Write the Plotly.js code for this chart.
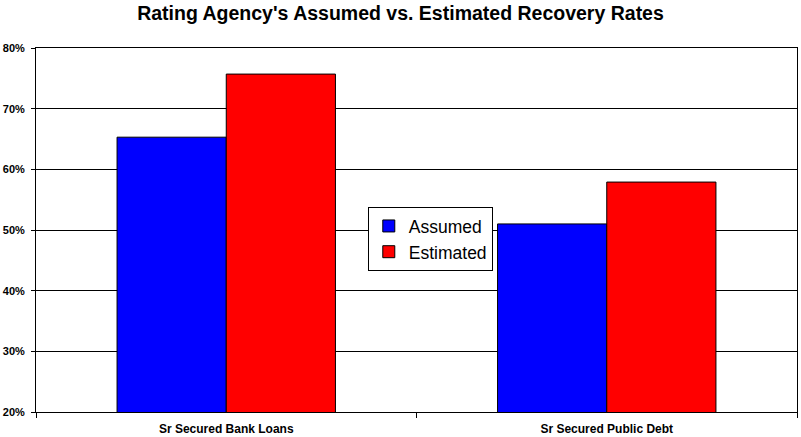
<!DOCTYPE html>
<html><head><meta charset="utf-8">
<script src="https://cdn.plot.ly/plotly-3.0.1.min.js"></script>
<style>body{margin:0;background:#fff}#c{width:801px;height:437px}</style>
</head><body><div id="c"></div>
<script>
const categories = ["Sr Secured Bank Loans", "Sr Secured Public Debt"];
const assumed = [0.653, 0.510];
const estimated = [0.757, 0.579];
const seriesNames = ["Assumed", "Estimated"];
const yTicks = [0.2, 0.3, 0.4, 0.5, 0.6, 0.7, 0.8];

const font = "Liberation Sans, Arial, sans-serif";
const data = [
  {type:"bar", name:seriesNames[0], x:categories, y:assumed, marker:{color:"#0000ff", line:{color:"#000", width:1}}},
  {type:"bar", name:seriesNames[1], x:categories, y:estimated, marker:{color:"#ff0000", line:{color:"#000", width:1}}}
];
const layout = {
  width:801, height:437,
  margin:{l:36, r:4, t:48, b:25},
  paper_bgcolor:"#fff", plot_bgcolor:"#fff",
  font:{family:font, color:"#000"},
  title:{text:"Rating Agency's Assumed vs. Estimated Recovery Rates", x:0.5, xanchor:"center", y:0.985, yanchor:"top", font:{size:19.5, family:font, color:"#000", weight:"bold"}},
  barmode:"group", bargap:0.426, bargroupgap:0,
  xaxis:{showline:true, linecolor:"#000", linewidth:1, mirror:true, ticks:"outside", tickson:"boundaries", ticklen:5, tickcolor:"#000",
         tickfont:{size:12, family:font, weight:"bold"}, ticklabelstandoff:6, showgrid:false, fixedrange:true},
  yaxis:{range:[0.2,0.8], tickvals:yTicks, tickformat:".0%", showline:true, linecolor:"#000", linewidth:1, mirror:true,
         ticks:"outside", ticklen:4, tickcolor:"#000", showgrid:true, gridcolor:"#000", gridwidth:1,
         tickfont:{size:11, family:font, weight:"bold"}, ticklabelstandoff:4, zeroline:false},
  legend:{x:0.436, y:0.563, xanchor:"left", yanchor:"top", bgcolor:"#fff", bordercolor:"#000", borderwidth:1,
          font:{size:17.5, family:font}, tracegroupgap:0, itemwidth:30},
  showlegend:true
};
Plotly.newPlot("c", data, layout, {displayModeBar:false, staticPlot:true});
</script></body></html>
